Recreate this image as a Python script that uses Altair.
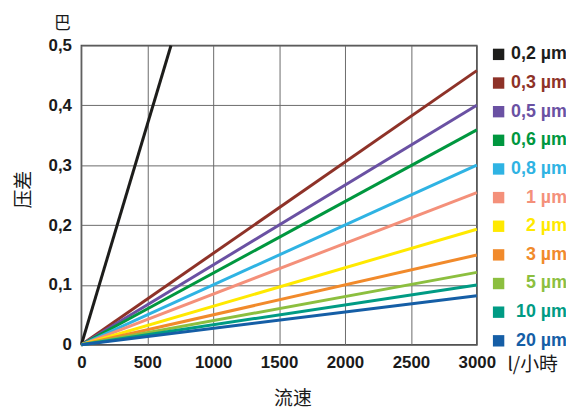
import altair as alt
import pandas as pd

# ---- data ----
sizes = ["0,2 µm", "0,3 µm", "0,5 µm", "0,6 µm", "0,8 µm", "1 µm",
         "2 µm", "3 µm", "5 µm", "10 µm", "20 µm"]
colors = ["#1d1d1b", "#8e3228", "#6a51a3", "#00973f", "#2fb3e3", "#f4907a",
          "#ffe900", "#f18a2b", "#8cbf3f", "#009b84", "#155ea6"]
# each line runs from (0, 0) to (end_flow, end_dp)
end_flow = [680, 3000, 3000, 3000, 3000, 3000, 3000, 3000, 3000, 3000, 3000]
end_dp = [0.5, 0.458, 0.400, 0.359, 0.300, 0.254, 0.193, 0.150, 0.121, 0.100, 0.082]
x_ticks = [0, 500, 1000, 1500, 2000, 2500, 3000]
y_ticks = [0, 0.1, 0.2, 0.3, 0.4, 0.5]

rows = []
for s, f, d in zip(sizes, end_flow, end_dp):
    rows.append({"size": s, "flow": 0, "dp": 0.0})
    rows.append({"size": s, "flow": f, "dp": d})
df = pd.DataFrame(rows)
leg_df = pd.DataFrame({"size": sizes})

LAT = "Liberation Sans"
CJK = "Noto Sans CJK SC"

color_scale = alt.Scale(domain=sizes, range=colors)

lines = alt.Chart(df).mark_line(strokeWidth=3, strokeCap="butt").encode(
    x=alt.X("flow:Q", scale=alt.Scale(domain=[0, 3000], nice=False),
            axis=alt.Axis(values=x_ticks, format="d", title="流速", grid=True,
                          domain=False, ticks=False, labelPadding=10,
                          labelFont=LAT, labelFontSize=17, labelFontWeight="bold",
                          labelColor="#1a1a1a", labelFlush=False,
                          titleFont=CJK, titleFontSize=19, titleFontWeight="normal",
                          titleColor="#1a1a1a", titleX=213, titleY=54,
                          titleBaseline="middle", titleAlign="center")),
    y=alt.Y("dp:Q", scale=alt.Scale(domain=[0, 0.5], nice=False),
            axis=alt.Axis(values=y_ticks, title="压差", grid=True,
                          labelExpr="datum.value == 0 ? '0' : replace(format(datum.value, '.1f'), '.', ',')",
                          domain=False, ticks=False, labelPadding=10,
                          labelFont=LAT, labelFontSize=17, labelFontWeight="bold",
                          labelColor="#1a1a1a", labelFlush=False,
                          titleFont=CJK, titleFontSize=19, titleFontWeight="normal",
                          titleColor="#1a1a1a", titleX=-58, titleY=145,
                          titleAngle=270, titleBaseline="middle", titleAlign="center")),
    color=alt.Color("size:N", scale=color_scale, legend=None),
)

leg_y = alt.Y("size:N", scale=alt.Scale(type="point", domain=sizes, range=[9, 298], padding=0),
              axis=None)

squares = alt.Chart(leg_df).mark_square(size=132, opacity=1).encode(
    x=alt.value(421),
    y=leg_y,
    color=alt.Color("size:N", scale=color_scale, legend=None),
)

labels = alt.Chart(leg_df).mark_text(align="right", baseline="middle", font=LAT,
                                     fontSize=18, fontWeight="bold").encode(
    x=alt.value(490),
    y=leg_y,
    text="size:N",
    color=alt.Color("size:N", scale=color_scale, legend=None),
)

unit_y = alt.Chart(pd.DataFrame({"t": ["巴"]})).mark_text(
    font=CJK, fontSize=17, color="#1a1a1a", align="center", baseline="middle"
).encode(text="t:N", x=alt.value(-19), y=alt.value(-22))

unit_x = alt.Chart(pd.DataFrame({"t": ["l/小時"]})).mark_text(
    font=CJK, fontSize=19, color="#1a1a1a", align="left", baseline="middle"
).encode(text="t:N", x=alt.value(430), y=alt.value(322))

chart = alt.layer(lines, squares, labels, unit_y, unit_x).resolve_scale(
    y="independent"
).properties(
    width=399, height=302,
    autosize=alt.AutoSizeParams(type="none"),
    padding={"left": 74, "top": 36, "right": 90, "bottom": 64},
    background="white",
).configure_view(
    stroke="#4d4d4d", strokeWidth=1.5
).configure_axis(
    gridColor="#6a6a6a", gridWidth=1, gridOpacity=1
)

chart.save("out.html", embed_options={"renderer": "svg", "actions": False})
